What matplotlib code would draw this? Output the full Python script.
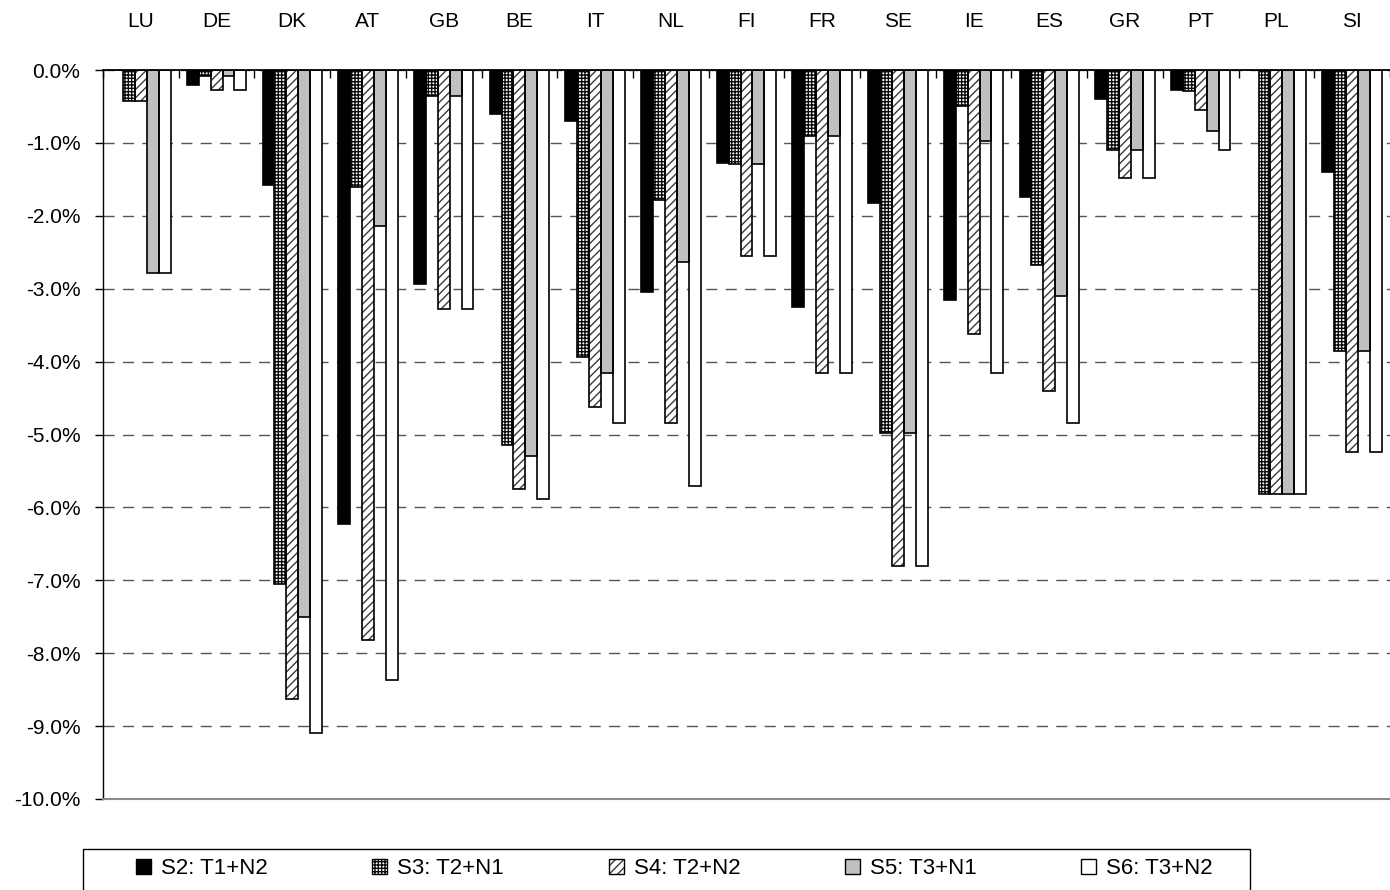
import matplotlib
matplotlib.use("Agg")
import matplotlib.pyplot as plt
import numpy as np
from matplotlib.patches import Patch, Rectangle
from matplotlib.ticker import FixedLocator, FuncFormatter

# values in percent
countries = ["LU", "DE", "DK", "AT", "GB", "BE", "IT", "NL", "FI",
             "FR", "SE", "IE", "ES", "GR", "PT", "PL", "SI"]
s2 = [0.0, -0.20, -1.58, -6.23, -2.93, -0.60, -0.70, -3.05, -1.27,
      -3.25, -1.82, -3.15, -1.74, -0.40, -0.27, 0.0, -1.40]
s3 = [-0.43, -0.08, -7.05, -1.60, -0.36, -5.14, -3.94, -1.79, -1.29,
      -0.91, -4.98, -0.49, -2.67, -1.10, -0.29, -5.82, -3.86]
s4 = [-0.43, -0.27, -8.63, -7.82, -3.28, -5.75, -4.62, -4.84, -2.55,
      -4.15, -6.80, -3.62, -4.41, -1.48, -0.55, -5.82, -5.24]
s5 = [-2.78, -0.08, -7.51, -2.14, -0.36, -5.29, -4.15, -2.64, -1.29,
      -0.91, -4.98, -0.97, -3.10, -1.10, -0.84, -5.82, -3.86]
s6 = [-2.78, -0.27, -9.09, -8.37, -3.28, -5.89, -4.84, -5.70, -2.55,
      -4.15, -6.80, -4.15, -4.84, -1.48, -1.10, -5.82, -5.24]
series_labels = ["S2: T1+N2", "S3: T2+N1", "S4: T2+N2", "S5: T3+N1", "S6: T3+N2"]
yticks = [0, -1, -2, -3, -4, -5, -6, -7, -8, -9, -10]

plt.rcParams["font.family"] = ["Liberation Sans", "DejaVu Sans"]
plt.rcParams["font.size"] = 15
plt.rcParams["hatch.linewidth"] = 1.0

W, H = 1390, 890
fig = plt.figure(figsize=(W / 100, H / 100), dpi=100)
ax = fig.add_axes([103 / W, 1 - 799 / H, 1 - 103 / W, (799 - 70) / H])

# (face, hatch, hatch colour)
styles = [
    ("black", None, "black"),
    ("white", "+++++", "#0a0a0a"),
    ("white", "////", "#3a3a3a"),
    ("#c0c0c0", None, "#c0c0c0"),
    ("white", None, "white"),
]
x = np.arange(len(countries))
w = 0.157
handles = []
for i, (vals, (fc, hatch, hc)) in enumerate(zip([s2, s3, s4, s5, s6], styles)):
    pos = x + (i - 2) * w
    ax.bar(pos, vals, w, color=fc, hatch=hatch, edgecolor=hc, linewidth=0, zorder=2)
    ax.bar(pos, vals, w, fill=False, edgecolor="black", linewidth=1.2, zorder=3)
    handles.append((Patch(facecolor=fc, hatch=hatch, edgecolor=hc, linewidth=0),
                    Patch(fill=False, edgecolor="black", linewidth=1.0)))

ax.set_ylim(-10, 0)
ax.set_xlim(-0.5, -0.5 + (W - 103) / 76.7)
ax.yaxis.set_major_locator(FixedLocator(yticks))
ax.yaxis.set_major_formatter(FuncFormatter(lambda v, p: f"{v:.1f}%"))
ax.tick_params(axis="y", direction="out", length=5.8, width=1, pad=10.5)

ax.xaxis.tick_top()
ax.set_xticks(x)
ax.set_xticklabels(countries)
ax.set_xticks(np.arange(len(countries) + 1) - 0.5, minor=True)
ax.tick_params(axis="x", which="major", length=0, pad=28)
ax.tick_params(axis="x", which="minor", direction="in", length=5.8, width=1, top=True)

ax.set_axisbelow(True)
ax.yaxis.grid(True, color="#555555", linewidth=1.0, linestyle=(0, (8, 6)))
ax.spines["right"].set_visible(False)
ax.spines["top"].set_linewidth(1.3)
ax.spines["left"].set_linewidth(1.0)
ax.spines["bottom"].set_color("#8a8a8a")
ax.spines["bottom"].set_linewidth(1.5)

fig.legend(handles, series_labels, ncol=5, loc="center left",
           bbox_to_anchor=(136 / W, 1 - 869 / H), frameon=False, fontsize=16,
           handlelength=0.68, handleheight=0.68, handletextpad=0.45,
           columnspacing=4.7, borderpad=0, borderaxespad=0)
fig.add_artist(Rectangle((83 / W, -0.05), (1250 - 83) / W, (890 - 849) / H + 0.05,
                         transform=fig.transFigure, fill=False,
                         edgecolor="black", linewidth=1.0))

fig.savefig("out.png", dpi=100)
